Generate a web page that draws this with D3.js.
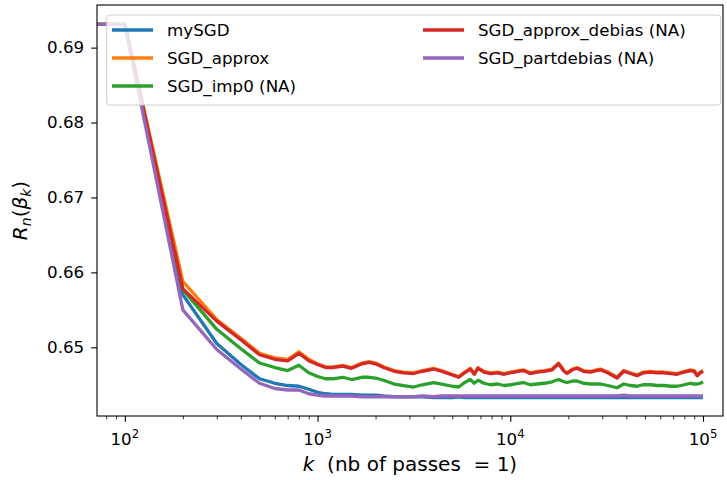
<!DOCTYPE html>
<html>
<head>
    <meta charset="utf-8">
    <script src="https://d3js.org/d3.v7.min.js"></script>
    <style>
        body { margin: 0; background: #fff; }
        text { font-family: "DejaVu Sans", sans-serif; fill: #000; }
    </style>
</head>
<body>
    <svg id="chart" width="727" height="480"></svg>
    <script>
        // iterations k (k = 0 sits at the left edge, like matplotlib's clipped log)
        var kValues = [0, 100, 200, 300, 400, 500, 600, 700, 800, 900, 1000, 1100, 1200, 1350, 1500, 1700, 1850, 2000, 2200, 2500, 2800, 3150, 3500, 4000, 4400, 5000, 5400, 5800, 6200, 6500, 6800, 7300, 7900, 8600, 9300, 10000, 11000, 11700, 12700, 13800, 15000, 16500, 17800, 19000, 19700, 21000, 22200, 24000, 26000, 28000, 29400, 32000, 35800, 38800, 42000, 45500, 49000, 53400, 58000, 62500, 68000, 73400, 80000, 86100, 90000, 93300, 97000, 100000];

        var mySGD = [0.6931, 0.6931, 0.6570, 0.6505, 0.6477, 0.6458, 0.6452, 0.6449, 0.6448, 0.6444, 0.6440, 0.6438, 0.6437, 0.6437, 0.6437, 0.6436, 0.6436, 0.6436, 0.6435, 0.6434, 0.6434, 0.6434, 0.6434, 0.6433, 0.6433, 0.6433, 0.6434, 0.6433, 0.6433, 0.6433, 0.6433, 0.6433, 0.6433, 0.6433, 0.6433, 0.6433, 0.6433, 0.6433, 0.6433, 0.6433, 0.6433, 0.6433, 0.6433, 0.6433, 0.6433, 0.6433, 0.6433, 0.6433, 0.6433, 0.6433, 0.6433, 0.6433, 0.6433, 0.6433, 0.6433, 0.6433, 0.6433, 0.6433, 0.6433, 0.6433, 0.6433, 0.6433, 0.6433, 0.6433, 0.6433, 0.6433, 0.6433, 0.6433];

        var SGD_approx = [0.6931, 0.6931, 0.6588, 0.6537, 0.6512, 0.6492, 0.6486, 0.6484, 0.6494, 0.6484, 0.6478, 0.6474, 0.6474, 0.6476, 0.6473, 0.6479, 0.6481, 0.6479, 0.6474, 0.6469, 0.6467, 0.6466, 0.6469, 0.6472, 0.6469, 0.6464, 0.6461, 0.6467, 0.6472, 0.6465, 0.6473, 0.6468, 0.6466, 0.6467, 0.6465, 0.6467, 0.6469, 0.6470, 0.6466, 0.6468, 0.6469, 0.6471, 0.6479, 0.6469, 0.6466, 0.6471, 0.6473, 0.6469, 0.6468, 0.6470, 0.6471, 0.6467, 0.6460, 0.6469, 0.6466, 0.6463, 0.6467, 0.6468, 0.6467, 0.6467, 0.6466, 0.6465, 0.6468, 0.6470, 0.6469, 0.6463, 0.6467, 0.6469];

        var SGD_imp0 = [0.6931, 0.6931, 0.6577, 0.6524, 0.6498, 0.6479, 0.6473, 0.6469, 0.6476, 0.6466, 0.6461, 0.6458, 0.6458, 0.6460, 0.6457, 0.6460, 0.6460, 0.6459, 0.6456, 0.6451, 0.6449, 0.6447, 0.6450, 0.6453, 0.6451, 0.6448, 0.6447, 0.6453, 0.6457, 0.6452, 0.6456, 0.6452, 0.6450, 0.6451, 0.6449, 0.6450, 0.6452, 0.6453, 0.6450, 0.6451, 0.6452, 0.6454, 0.6457, 0.6454, 0.6453, 0.6455, 0.6455, 0.6452, 0.6451, 0.6451, 0.6451, 0.6449, 0.6446, 0.6451, 0.6449, 0.6448, 0.6450, 0.6450, 0.6449, 0.6449, 0.6448, 0.6448, 0.6450, 0.6452, 0.6451, 0.6451, 0.6452, 0.6454];

        var SGD_approx_debias = [0.6931, 0.6931, 0.6578, 0.6535, 0.6510, 0.6490, 0.6484, 0.6482, 0.6492, 0.6482, 0.6477, 0.6473, 0.6473, 0.6475, 0.6472, 0.6478, 0.6480, 0.6478, 0.6473, 0.6468, 0.6466, 0.6465, 0.6468, 0.6471, 0.6468, 0.6463, 0.6460, 0.6466, 0.6471, 0.6464, 0.6472, 0.6467, 0.6465, 0.6466, 0.6464, 0.6466, 0.6468, 0.6469, 0.6465, 0.6467, 0.6468, 0.6470, 0.6478, 0.6468, 0.6465, 0.6470, 0.6472, 0.6468, 0.6467, 0.6469, 0.6470, 0.6466, 0.6459, 0.6468, 0.6465, 0.6462, 0.6466, 0.6467, 0.6466, 0.6466, 0.6465, 0.6464, 0.6467, 0.6469, 0.6468, 0.6462, 0.6466, 0.6468];

        var SGD_partdebias = [0.6931, 0.6931, 0.6550, 0.6497, 0.6471, 0.6452, 0.6445, 0.6443, 0.6443, 0.6438, 0.6436, 0.6435, 0.6435, 0.6435, 0.6435, 0.6434, 0.6434, 0.6434, 0.6434, 0.6434, 0.6434, 0.6434, 0.6435, 0.6434, 0.6435, 0.6435, 0.6435, 0.6435, 0.6435, 0.6435, 0.6435, 0.6435, 0.6435, 0.6435, 0.6435, 0.6435, 0.6435, 0.6435, 0.6435, 0.6435, 0.6435, 0.6435, 0.6435, 0.6435, 0.6435, 0.6435, 0.6435, 0.6435, 0.6435, 0.6435, 0.6435, 0.6435, 0.6435, 0.6436, 0.6435, 0.6435, 0.6435, 0.6435, 0.6435, 0.6435, 0.6435, 0.6435, 0.6435, 0.6435, 0.6435, 0.6435, 0.6435, 0.6435];

        var seriesNames = ["mySGD", "SGD_approx", "SGD_imp0 (NA)", "SGD_approx_debias (NA)", "SGD_partdebias (NA)"];
        var seriesValues = [mySGD, SGD_approx, SGD_imp0, SGD_approx_debias, SGD_partdebias];
        var seriesColors = ["#1f77b4", "#ff7f0e", "#2ca02c", "#d62728", "#9467bd"];

        var yTicks = [0.65, 0.66, 0.67, 0.68, 0.69];
        var xMajorTicks = [100, 1000, 10000, 100000];

        // axes box (pixels)
        var axL = 97, axR = 723, axT = 5, axB = 416;
        var fontSize = 16.7;
        var lineW = 3.3;

        var svg = d3.select("#chart");

        var x = d3.scaleLog()
            .domain([71.7, 127000])
            .range([axL, axR])
            .clamp(true);

        var y = d3.scaleLinear()
            .domain([0.64083, 0.69569])
            .range([axB, axT]);

        // clip lines to the axes box
        svg.append("clipPath").attr("id", "clip")
            .append("rect")
            .attr("x", axL).attr("y", axT)
            .attr("width", axR - axL).attr("height", axB - axT);

        var line = d3.line()
            .x(function(d) { return x(d[0]); })
            .y(function(d) { return y(d[1]); });

        var g = svg.append("g").attr("clip-path", "url(#clip)");
        seriesValues.forEach(function(vals, i) {
            g.append("path")
                .datum(kValues.map(function(k, j) { return [k, vals[j]]; }))
                .attr("fill", "none")
                .attr("stroke", seriesColors[i])
                .attr("stroke-width", lineW)
                .attr("stroke-linejoin", "round")
                .attr("d", line);
        });

        // x axis: major ticks with 10^n labels, minor ticks without labels
        var xMinor = [];
        [10, 100, 1000, 10000, 100000].forEach(function(p) {
            for (var m = 2; m <= 9; m++) {
                var v = m * p;
                if (v >= 71.7 && v <= 127000) xMinor.push(v);
            }
        });

        var xAxisG = svg.append("g")
            .attr("transform", "translate(0," + axB + ")")
            .call(d3.axisBottom(x).tickValues(xMajorTicks).tickSize(5.8).tickFormat(""));
        xAxisG.select(".domain").remove();
        xAxisG.selectAll(".tick line").attr("stroke", "#000").attr("stroke-width", 1.1);

        var xMinorG = svg.append("g")
            .attr("transform", "translate(0," + axB + ")")
            .call(d3.axisBottom(x).tickValues(xMinor).tickSize(3.3).tickFormat(""));
        xMinorG.select(".domain").remove();
        xMinorG.selectAll(".tick line").attr("stroke", "#000").attr("stroke-width", 0.8);

        // 10^n labels
        xMajorTicks.forEach(function(v) {
            var t = svg.append("text")
                .attr("x", x(v))
                .attr("y", 445)
                .attr("text-anchor", "middle")
                .style("font-size", fontSize + "px");
            t.append("tspan").text("10");
            t.append("tspan")
                .attr("dy", -7)
                .style("font-size", "11.7px")
                .text(String(Math.round(Math.log10(v))));
        });

        // y axis
        var yAxisG = svg.append("g")
            .attr("transform", "translate(" + axL + ",0)")
            .call(d3.axisLeft(y).tickValues(yTicks).tickSize(5.8).tickPadding(7).tickFormat(d3.format(".2f")));
        yAxisG.select(".domain").remove();
        yAxisG.selectAll(".tick line").attr("stroke", "#000").attr("stroke-width", 1.1);
        yAxisG.selectAll(".tick text")
            .style("font-size", fontSize + "px")
            .style("font-family", "DejaVu Sans")
            .attr("fill", "#000");

        // frame
        svg.append("rect")
            .attr("x", axL).attr("y", axT)
            .attr("width", axR - axL).attr("height", axB - axT)
            .attr("fill", "none")
            .attr("stroke", "#000")
            .attr("stroke-width", 1.1);

        // axis labels
        var xl = svg.append("text")
            .attr("x", (axL + axR) / 2)
            .attr("y", 471)
            .attr("text-anchor", "middle")
            .style("font-size", "20px")
            .style("white-space", "pre");
        xl.append("tspan").style("font-style", "italic").text("k");
        xl.append("tspan").text("  (nb of passes  = 1)");

        var yl = svg.append("text")
            .attr("transform", "translate(27," + ((axT + axB) / 2) + ") rotate(-90)")
            .attr("text-anchor", "middle")
            .style("font-size", "20px");
        yl.append("tspan").style("font-style", "italic").text("R");
        yl.append("tspan").attr("dy", 4).style("font-size", "14px").style("font-style", "italic").text("n");
        yl.append("tspan").attr("dy", -4).text("(");
        yl.append("tspan").style("font-style", "italic").text("β");
        yl.append("tspan").attr("dy", 4).style("font-size", "14px").style("font-style", "italic").text("k");
        yl.append("tspan").attr("dy", -4).text(")");

        // legend, two columns
        var legend = svg.append("g");
        legend.append("rect")
            .attr("x", 106.7).attr("y", 15)
            .attr("width", 614).attr("height", 90)
            .attr("rx", 3)
            .attr("fill", "rgba(255,255,255,0.8)")
            .attr("stroke", "#cccccc")
            .attr("stroke-width", 1);

        var colX = [112, 423];
        var rowY = [30, 58, 86];
        seriesNames.forEach(function(name, i) {
            var cx = colX[i < 3 ? 0 : 1];
            var cy = rowY[i < 3 ? i : i - 3];
            legend.append("line")
                .attr("x1", cx).attr("x2", cx + 41)
                .attr("y1", cy).attr("y2", cy)
                .attr("stroke", seriesColors[i])
                .attr("stroke-width", lineW);
            legend.append("text")
                .attr("x", cx + 55)
                .attr("y", cy + 6)
                .style("font-size", fontSize + "px")
                .text(name);
        });
    </script>
</body>
</html>
